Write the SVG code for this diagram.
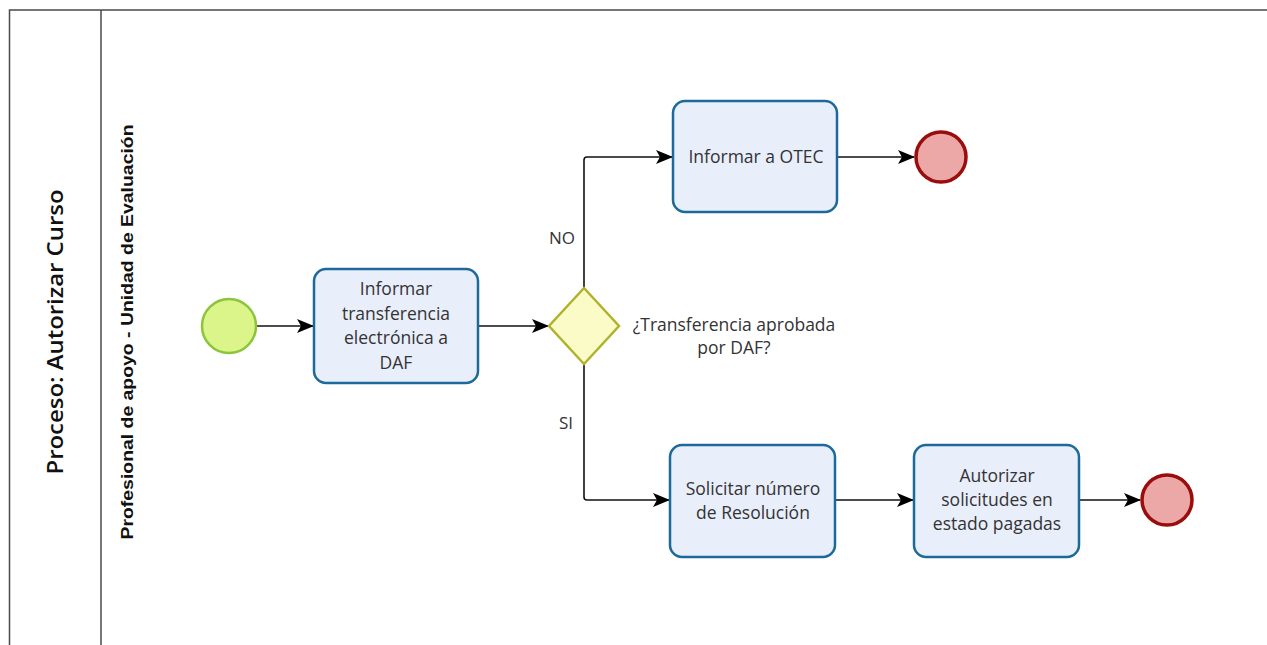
<svg xmlns="http://www.w3.org/2000/svg" width="1267" height="645" viewBox="0 0 1267 645">
<defs>
<marker id="arr" viewBox="0 0 17 14" refX="16" refY="7" markerWidth="17" markerHeight="14" markerUnits="userSpaceOnUse" orient="auto">
<path d="M0,0 L17,7 L0,14 L4,7 Z" fill="#000"/>
</marker>
<style>
.frame{fill:none;stroke:#4a4a4a;stroke-width:1.5}
.task{fill:#e9eefb;stroke:#1c6a99;stroke-width:2.5}
.t{font-family:"Open Sans","Noto Sans","Liberation Sans",sans-serif;font-size:17.5px;fill:#333;text-anchor:middle}
.lbl{font-family:"Open Sans","Noto Sans","Liberation Sans",sans-serif;font-size:17px;fill:#333}
.flow{fill:none;stroke:#111;stroke-width:1.6;marker-end:url(#arr)}
.start{fill:#dbf58a;stroke:#8cc43c;stroke-width:2.5}
.end{fill:#eca7a7;stroke:#9b0d0d;stroke-width:3.5}
.gw{fill:#fbfbc8;stroke:#b1b22c;stroke-width:2.5}
</style>
</defs>
<rect width="1267" height="645" fill="#fff"/>
<g id="pool">
<path class="frame" d="M1267,10 L9.5,10 L9.5,645"/>
<line class="frame" x1="101" y1="10" x2="101" y2="645"/>
<text transform="translate(63,332) rotate(-90)" font-family="'Open Sans','Noto Sans','Liberation Sans',sans-serif" font-size="22" font-weight="600" fill="#111" text-anchor="middle" textLength="285" lengthAdjust="spacingAndGlyphs">Proceso: Autorizar Curso</text>
<text transform="translate(133,332) rotate(-90)" font-family="'Liberation Sans','Noto Sans',sans-serif" font-size="16" font-weight="bold" fill="#111" text-anchor="middle" textLength="415" lengthAdjust="spacingAndGlyphs">Profesional de apoyo - Unidad de Evaluación</text>
</g>
<g id="connectors">
<line class="flow" x1="256" y1="326" x2="313" y2="326"/>
<line class="flow" x1="478" y1="326" x2="548" y2="326"/>
<path class="flow" d="M584,288 L584,160 Q584,157 587,157 L672,157"/>
<path class="flow" d="M584,364 L584,497 Q584,500 587,500 L669,500"/>
<line class="flow" x1="837" y1="157" x2="914" y2="157"/>
<line class="flow" x1="835" y1="500" x2="913" y2="500"/>
<line class="flow" x1="1079" y1="500" x2="1140" y2="500"/>
<text class="lbl" x="562" y="244" text-anchor="middle">NO</text>
<text class="lbl" x="566" y="429" text-anchor="middle">SI</text>
</g>
<g id="start">
<circle class="start" cx="229" cy="326" r="27"/>
</g>
<g id="task1">
<rect class="task" x="314" y="269" width="164" height="114" rx="12"/>
<text class="t"><tspan x="396" y="295">Informar</tspan><tspan x="396" y="320">transferencia</tspan><tspan x="396" y="344">electrónica a</tspan><tspan x="396" y="369">DAF</tspan></text>
</g>
<g id="gateway">
<polygon class="gw" points="584,288 619,326 584,364 549,326"/>
<text class="t"><tspan x="734" y="331">¿Transferencia aprobada</tspan><tspan x="734" y="354">por DAF?</tspan></text>
</g>
<g id="task2">
<rect class="task" x="673" y="101" width="164" height="111" rx="12"/>
<text class="t" x="756" y="163">Informar a OTEC</text>
</g>
<g id="end1">
<circle class="end" cx="941" cy="157" r="25"/>
</g>
<g id="task3">
<rect class="task" x="670" y="445" width="165" height="112" rx="12"/>
<text class="t"><tspan x="753" y="495">Solicitar número</tspan><tspan x="753" y="519">de Resolución</tspan></text>
</g>
<g id="task4">
<rect class="task" x="914" y="445" width="165" height="112" rx="12"/>
<text class="t"><tspan x="997" y="482">Autorizar</tspan><tspan x="997" y="506">solicitudes en</tspan><tspan x="997" y="530">estado pagadas</tspan></text>
</g>
<g id="end2">
<circle class="end" cx="1167" cy="500" r="25"/>
</g>
</svg>
